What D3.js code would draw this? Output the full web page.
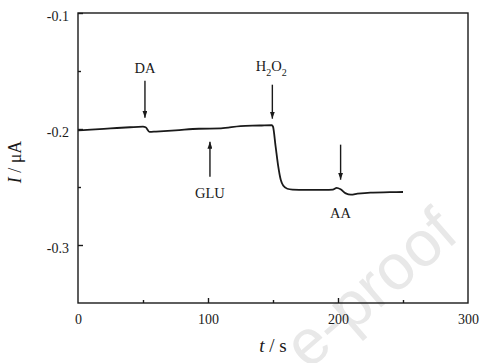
<!DOCTYPE html>
<html>
<head>
<meta charset="utf-8">
<script src="https://cdn.jsdelivr.net/npm/d3@7"></script>
<style>
  body { margin: 0; background: #fff; }
  svg { display: block; }
</style>
</head>
<body>
<div id="graph"></div>
<script>
// amperometric response, time in s, current in uA
const times = [0, 10, 25, 40, 50, 52, 55, 60, 75, 93, 110, 125, 140, 149, 150, 152, 154, 156, 158, 161, 165, 175, 190, 196, 199, 202, 206, 210, 215, 225, 240, 250];
const current = [-0.2012, -0.2005, -0.1995, -0.1985, -0.198, -0.1985, -0.2025, -0.2022, -0.2012, -0.1998, -0.1995, -0.1975, -0.197, -0.1966, -0.198, -0.215, -0.232, -0.244, -0.249, -0.2515, -0.2522, -0.2525, -0.2525, -0.2522, -0.2508, -0.252, -0.2555, -0.2566, -0.2558, -0.2548, -0.2545, -0.2543];

const xTicks = [0, 100, 200, 300];
const xMinor = [50, 150, 250];
const yTicks = [-0.1, -0.2, -0.3];
const yMinor = [-0.15, -0.25];

// injections: label, time, arrow tail, arrow head, label level
const injLabels = ["DA", "GLU", "H2O2", "AA"];
const injTimes = [51.5, 101.5, 149.5, 202];
const injFrom = [-0.1584, -0.2411, -0.1618, -0.2135];
const injTo = [-0.1903, -0.2109, -0.1911, -0.2437];
const injText = [-0.1515, -0.2592, -0.1498, -0.2764];

const width = 493, height = 363;
const margin = {left: 78, right: 25, top: 13, bottom: 60};

const svg = d3.select("#graph").append("svg")
  .attr("width", width)
  .attr("height", height);

// watermark (only the tail of it shows in the picture)
svg.append("text")
  .attr("transform", "translate(461,238) rotate(-41)")
  .attr("text-anchor", "end")
  .attr("font-family", "Liberation Sans, Arial, sans-serif")
  .attr("font-size", 64)
  .attr("fill", "#e8e8e8")
  .text("e-proof");

const x = d3.scaleLinear().domain([0, 300]).range([margin.left, width - margin.right]);
const y = d3.scaleLinear().domain([-0.35, -0.1]).range([height - margin.bottom, margin.top]);

const font = "Liberation Serif, Times New Roman, serif";
const ink = "#1a1a1a";

// frame
svg.append("rect")
  .attr("x", x(0)).attr("y", y(-0.1))
  .attr("width", x(300) - x(0)).attr("height", y(-0.35) - y(-0.1))
  .attr("fill", "none").attr("stroke", ink).attr("stroke-width", 1.4);

// bottom axis, ticks inward
const xAxis = svg.append("g")
  .attr("transform", `translate(0,${y(-0.35)})`)
  .call(d3.axisBottom(x).tickValues(xTicks).tickSizeInner(-5).tickSizeOuter(0).tickPadding(10).tickFormat(d3.format("d")));
xAxis.selectAll(".tick").filter(d => d === 0 || d === 300).select("line").remove();
svg.append("g")
  .attr("transform", `translate(0,${y(-0.35)})`)
  .call(d3.axisBottom(x).tickValues(xMinor).tickSizeInner(-3).tickSizeOuter(0).tickFormat(""));

const yAxis = svg.append("g")
  .attr("transform", `translate(${x(0)},0)`)
  .call(d3.axisLeft(y).tickValues(yTicks).tickSizeInner(-5).tickSizeOuter(0).tickPadding(9)
    .tickFormat(d => d.toFixed(1)));
svg.append("g")
  .attr("transform", `translate(${x(0)},0)`)
  .call(d3.axisLeft(y).tickValues(yMinor).tickSizeInner(-3).tickSizeOuter(0).tickFormat(""));

svg.selectAll(".domain").remove();
svg.selectAll(".tick line").attr("stroke", ink).attr("stroke-width", 1.4);
svg.selectAll(".tick text")
  .attr("font-family", font).attr("font-size", 14).attr("fill", ink);
yAxis.selectAll(".tick text").attr("dy", "0.5em");
xAxis.selectAll(".tick text").attr("dy", "0.75em");

// axis titles
const yTitle = svg.append("text")
  .attr("transform", `translate(21,${y(-0.225) + 4}) rotate(-90)`)
  .attr("text-anchor", "middle")
  .attr("font-family", font).attr("font-size", 18).attr("fill", ink);
yTitle.append("tspan").attr("font-style", "italic").text("I");
yTitle.append("tspan").text(" / μA");

const xTitle = svg.append("text")
  .attr("x", x(150)).attr("y", 352)
  .attr("text-anchor", "middle")
  .attr("font-family", font).attr("font-size", 19).attr("fill", ink);
xTitle.append("tspan").attr("font-style", "italic").text("t");
xTitle.append("tspan").text(" / s");

// response curve
const line = d3.line()
  .x((d, i) => x(times[i]))
  .y(d => y(d))
  .curve(d3.curveMonotoneX);
svg.append("path")
  .datum(current)
  .attr("d", line)
  .attr("fill", "none")
  .attr("stroke", ink)
  .attr("stroke-width", 1.8);

// arrows
svg.append("defs").append("marker")
  .attr("id", "head")
  .attr("viewBox", "0 0 10 10")
  .attr("refX", 10).attr("refY", 5)
  .attr("markerWidth", 7).attr("markerHeight", 5)
  .attr("markerUnits", "userSpaceOnUse")
  .attr("orient", "auto")
  .attr("preserveAspectRatio", "none")
  .append("path").attr("d", "M0,0 L10,5 L0,10 Z").attr("fill", ink);

injLabels.forEach((lab, i) => {
  svg.append("line")
    .attr("x1", x(injTimes[i])).attr("x2", x(injTimes[i]))
    .attr("y1", y(injFrom[i])).attr("y2", y(injTo[i]))
    .attr("stroke", ink).attr("stroke-width", 1.4)
    .attr("marker-end", "url(#head)");
  const t = svg.append("text")
    .attr("x", x(injTimes[i]) - (lab === "H2O2" ? 1 : 0))
    .attr("y", y(injText[i]))
    .attr("text-anchor", "middle")
    .attr("font-family", font).attr("font-size", 14.5).attr("fill", ink);
  if (lab === "H2O2") {
    t.append("tspan").text("H");
    t.append("tspan").attr("font-size", 10).attr("dy", 5).text("2");
    t.append("tspan").attr("dy", -5).text("O");
    t.append("tspan").attr("font-size", 10).attr("dy", 5).text("2");
  } else {
    t.text(lab);
  }
});
</script>
</body>
</html>
